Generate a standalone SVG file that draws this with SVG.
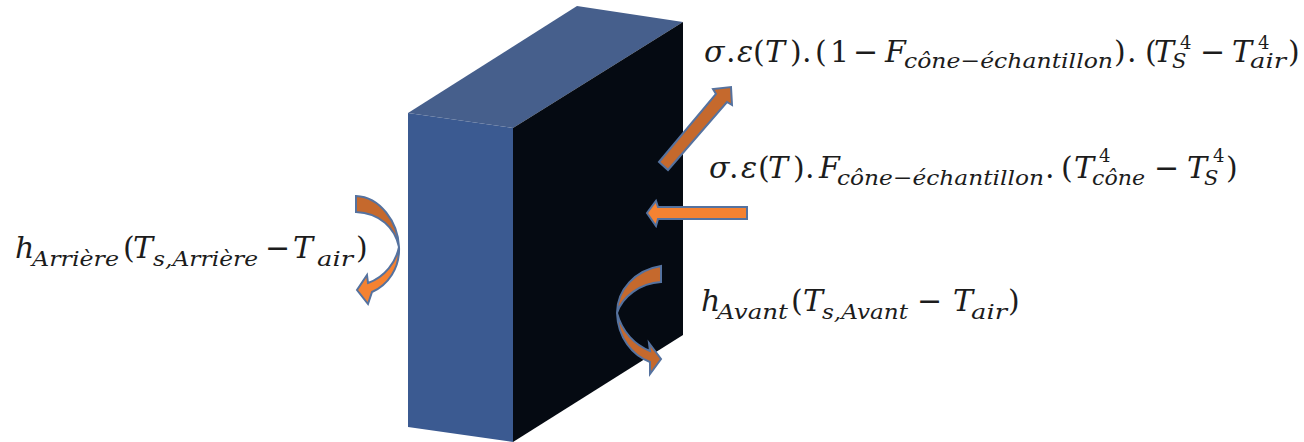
<svg xmlns="http://www.w3.org/2000/svg" width="1304" height="442" viewBox="0 0 1304 442">
<style>
text{font-family:"DejaVu Serif","Liberation Serif",serif;fill:#1c1c1c;font-style:italic;font-size:30px}
.u{font-style:normal}
.s{font-size:21px}
.p{font-size:18px;font-style:normal}
.a{stroke:#55729f;stroke-width:2;stroke-linejoin:miter}
.d{fill:#c5692d}
.l{fill:#f58231}
</style>
<defs>
<linearGradient id="g" x1="0" y1="0" x2="0" y2="1"><stop offset="0" stop-color="#c5692d"/><stop offset="0.45" stop-color="#c5692d"/><stop offset="0.6" stop-color="#f58231"/><stop offset="1" stop-color="#f58231"/></linearGradient>
</defs>
<rect width="1304" height="442" fill="#fff"/>
<g id="block">
<polygon points="408,113 513,128 513,442 408,427" fill="#3b5a91"/>
<polygon points="408,113 577,6 683,22 513,128" fill="#465f8c"/>
<polygon points="513,128 683,22 683,335 513,442" fill="#050a12"/>
</g>
<g id="connectors">
<path class="a d" d="M659 162 L716 94 L713 89 L731 87 L732 105 L727 102 L668 170 Z"/>
<path class="a l" d="M747 207 L658 207 L656 201 L647 213 L656 226 L658 219 L747 219 Z"/>
<path class="a" fill="url(#g)" d="M356 196 C380 197 398 222 399 247 C400 268 388 285 372 292 L368 304 L357 290 L367 275 L368 283 C385 277 396 262 399 247 C395 228 380 213 356 212 Z"/>
<path class="a d" d="M661 266 C635 270 617 290 617 313 C618 338 632 355 650 362 L650 374 L661 359 L649 343 L650 351 C635 345 622 332 617 313 C622 297 640 283 661 282 Z"/>
</g>
<g id="label-rayonnement-sortant">
<text y="62"><tspan x="704">σ</tspan><tspan class="u" x="726">.</tspan><tspan x="737">ε</tspan><tspan class="u" x="753">(</tspan><tspan x="765">T</tspan><tspan class="u" x="790">)</tspan><tspan class="u" x="802">.</tspan><tspan class="u" x="815">(</tspan><tspan class="u" x="830">1</tspan><tspan class="u" x="853">−</tspan><tspan x="885">F</tspan><tspan class="s" x="904" y="68" textLength="209" lengthAdjust="spacingAndGlyphs">cône−échantillon</tspan><tspan class="u" x="1114" y="62">)</tspan><tspan class="u" x="1127">.</tspan><tspan class="u" x="1145">(</tspan><tspan x="1154">T</tspan><tspan class="p" x="1180" y="49">4</tspan><tspan class="s" x="1172" y="68">S</tspan><tspan class="u" x="1200" y="62">−</tspan><tspan x="1232">T</tspan><tspan class="p" x="1258" y="49">4</tspan><tspan class="s" x="1250" y="68" textLength="36" lengthAdjust="spacingAndGlyphs">air</tspan><tspan class="u" x="1288" y="62">)</tspan></text>
</g>
<g id="label-rayonnement-entrant">
<text y="178"><tspan x="709">σ</tspan><tspan class="u" x="729">.</tspan><tspan x="741">ε</tspan><tspan class="u" x="758">(</tspan><tspan x="768">T</tspan><tspan class="u" x="793">)</tspan><tspan class="u" x="805">.</tspan><tspan x="819">F</tspan><tspan class="s" x="837" y="185" textLength="207" lengthAdjust="spacingAndGlyphs">cône−échantillon</tspan><tspan class="u" x="1045" y="178">.</tspan><tspan class="u" x="1061">(</tspan><tspan x="1074">T</tspan><tspan class="p" x="1099" y="162">4</tspan><tspan class="s" x="1092" y="185" textLength="53" lengthAdjust="spacingAndGlyphs">cône</tspan><tspan class="u" x="1154" y="178">−</tspan><tspan x="1187">T</tspan><tspan class="p" x="1213" y="162">4</tspan><tspan class="s" x="1204" y="185">S</tspan><tspan class="u" x="1226" y="178">)</tspan></text>
</g>
<g id="label-arriere">
<text y="258"><tspan x="15">h</tspan><tspan class="s" x="32" y="266" textLength="87" lengthAdjust="spacingAndGlyphs">Arrière</tspan><tspan class="u" x="123" y="258">(</tspan><tspan x="133">T</tspan><tspan class="s" x="153" y="266" textLength="105" lengthAdjust="spacingAndGlyphs">s,Arrière</tspan><tspan class="u" x="265" y="258">−</tspan><tspan x="293">T</tspan><tspan class="s" x="317" y="266" textLength="36" lengthAdjust="spacingAndGlyphs">air</tspan><tspan class="u" x="356" y="258">)</tspan></text>
</g>
<g id="label-avant">
<text y="311"><tspan x="701">h</tspan><tspan class="s" x="717" y="319" textLength="71" lengthAdjust="spacingAndGlyphs">Avant</tspan><tspan class="u" x="791" y="311">(</tspan><tspan x="803">T</tspan><tspan class="s" x="822" y="319" textLength="86" lengthAdjust="spacingAndGlyphs">s,Avant</tspan><tspan class="u" x="917" y="311">−</tspan><tspan x="953">T</tspan><tspan class="s" x="971" y="319" textLength="36" lengthAdjust="spacingAndGlyphs">air</tspan><tspan class="u" x="1008" y="311">)</tspan></text>
</g>
</svg>
